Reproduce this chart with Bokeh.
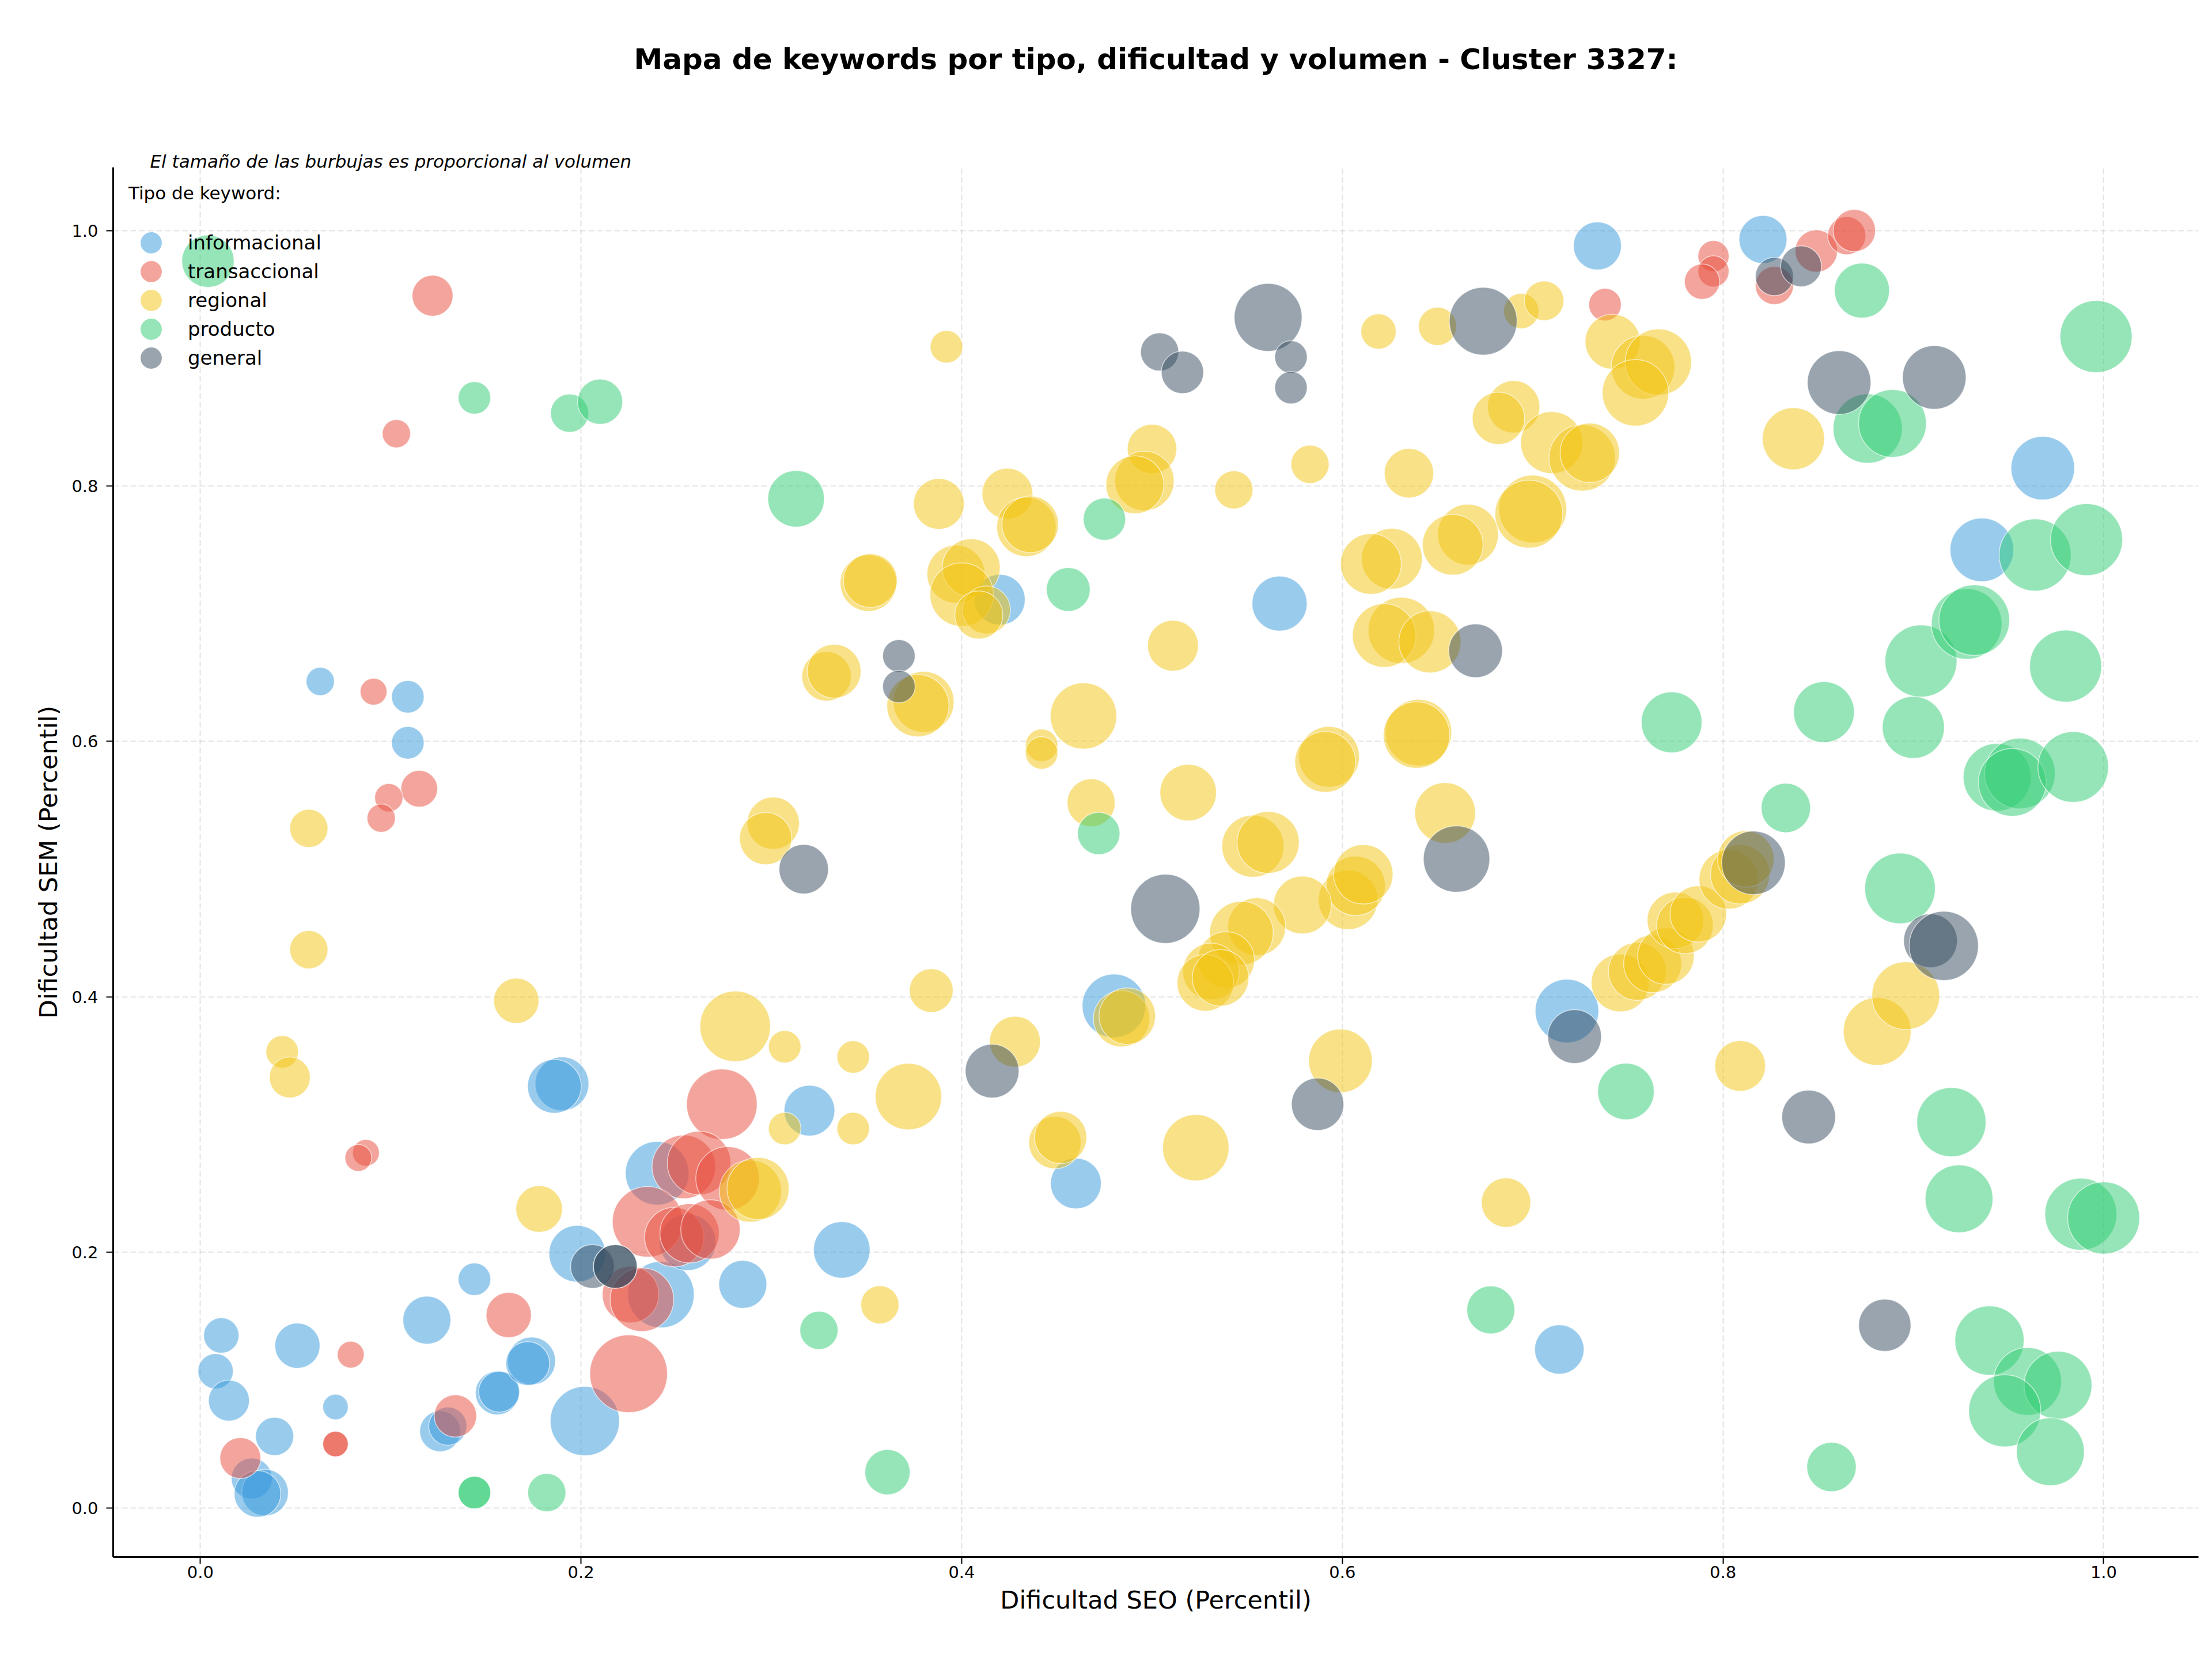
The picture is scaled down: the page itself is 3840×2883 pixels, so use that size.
import math
from bokeh.plotting import figure
from bokeh.models import ColumnDataSource, FixedTicker, PrintfTickFormatter, Range1d, Title, Legend, LegendItem
from bokeh.embed import file_html
from bokeh.resources import INLINE

TITLE = "Mapa de keywords por tipo, dificultad y volumen - Cluster 3327:"
SUBTITLE = "El tamaño de las burbujas es proporcional al volumen"
X_LABEL = "Dificultad SEO (Percentil)"
Y_LABEL = "Dificultad SEM (Percentil)"
LEGEND_TITLE = "Tipo de keyword:"
TICKS = [0.0, 0.2, 0.4, 0.6, 0.8, 1.0]

categories = ["informacional", "transaccional", "regional", "producto", "general"]
colors = ["#3498db", "#e74c3c", "#f1c40f", "#2ecc71", "#34495e"]

# informacional
inf_seo = [0.011, 0.008, 0.015, 0.039, 0.051, 0.027, 0.034, 0.030, 0.071, 0.063,
           0.109, 0.109, 0.119, 0.126, 0.130, 0.144, 0.156, 0.157, 0.174, 0.172,
           0.190, 0.186, 0.198, 0.202, 0.240, 0.242, 0.256, 0.285, 0.320, 0.337,
           0.460, 0.480, 0.420, 0.567, 0.734, 0.718, 0.714, 0.821, 0.936, 0.968]
inf_sem = [0.135, 0.107, 0.084, 0.056, 0.127, 0.023, 0.012, 0.011, 0.079, 0.647,
           0.635, 0.599, 0.147, 0.060, 0.064, 0.179, 0.090, 0.091, 0.115, 0.113,
           0.332, 0.330, 0.199, 0.068, 0.262, 0.167, 0.208, 0.175, 0.311, 0.202,
           0.254, 0.393, 0.711, 0.708, 0.988, 0.389, 0.124, 0.993, 0.750, 0.814]
inf_vol = [2500, 2500, 3360, 2920, 4100, 3360, 4360, 4360, 1300, 1600,
           2120, 2120, 4620, 3360, 2920, 2120, 3840, 3360, 4620, 3840,
           5780, 5780, 6400, 9600, 8100, 8840, 6400, 4620, 5180, 6400,
           5180, 8100, 5180, 6080, 4620, 8100, 4900, 4620, 8100, 8100]

# transaccional
tra_seo = [0.122, 0.103, 0.091, 0.115, 0.099, 0.095, 0.087, 0.083, 0.021, 0.079,
           0.071, 0.071, 0.162, 0.134, 0.225, 0.274, 0.254, 0.262, 0.277, 0.235,
           0.249, 0.257, 0.268, 0.226, 0.232, 0.738, 0.795, 0.795, 0.789, 0.827,
           0.849, 0.865, 0.869]
tra_sem = [0.949, 0.841, 0.639, 0.563, 0.556, 0.540, 0.278, 0.274, 0.039, 0.120,
           0.050, 0.050, 0.151, 0.072, 0.105, 0.316, 0.267, 0.270, 0.258, 0.224,
           0.212, 0.215, 0.218, 0.167, 0.163, 0.942, 0.980, 0.968, 0.960, 0.957,
           0.984, 0.996, 1.000]
tra_vol = [3360, 1600, 1440, 2700, 1600, 1600, 1440, 1440, 3360, 1440,
           1300, 1300, 4100, 3600, 12100, 10000, 8100, 8100, 8100, 10000,
           7060, 7060, 7060, 6400, 8100, 2120, 1940, 1940, 2500, 2920,
           3600, 2920, 3600]

# regional
reg_seo = [0.057, 0.057, 0.043, 0.047, 0.166, 0.178, 0.281, 0.307, 0.307, 0.343,
           0.343, 0.357, 0.301, 0.297, 0.372, 0.384, 0.289, 0.293, 0.428, 0.449,
           0.452, 0.468, 0.442, 0.442, 0.464, 0.484, 0.487, 0.523, 0.599, 0.519,
           0.511, 0.500, 0.496, 0.491, 0.543, 0.583, 0.635, 0.619, 0.650, 0.694,
           0.706, 0.392, 0.388, 0.424, 0.434, 0.436, 0.351, 0.352, 0.329, 0.333,
           0.380, 0.377, 0.397, 0.405, 0.400, 0.413, 0.409, 0.742, 0.758, 0.766,
           0.754, 0.690, 0.682, 0.710, 0.726, 0.730, 0.700, 0.698, 0.666, 0.658,
           0.626, 0.615, 0.631, 0.622, 0.646, 0.640, 0.639, 0.593, 0.591, 0.654,
           0.553, 0.561, 0.603, 0.607, 0.611, 0.579, 0.555, 0.547, 0.539, 0.531,
           0.528, 0.536, 0.686, 0.746, 0.755, 0.763, 0.770, 0.775, 0.780, 0.787,
           0.803, 0.809, 0.812, 0.809, 0.881, 0.896, 0.837]
reg_sem = [0.532, 0.437, 0.357, 0.337, 0.397, 0.234, 0.377, 0.361, 0.297, 0.297,
           0.353, 0.159, 0.536, 0.524, 0.322, 0.405, 0.248, 0.250, 0.365, 0.286,
           0.290, 0.552, 0.597, 0.591, 0.620, 0.383, 0.385, 0.282, 0.350, 0.560,
           0.675, 0.829, 0.804, 0.801, 0.797, 0.817, 0.810, 0.921, 0.925, 0.937,
           0.945, 0.909, 0.786, 0.794, 0.768, 0.770, 0.724, 0.726, 0.651, 0.655,
           0.631, 0.628, 0.731, 0.736, 0.715, 0.703, 0.699, 0.913, 0.893, 0.897,
           0.873, 0.862, 0.853, 0.834, 0.822, 0.826, 0.782, 0.778, 0.762, 0.754,
           0.743, 0.739, 0.687, 0.683, 0.678, 0.607, 0.605, 0.588, 0.584, 0.544,
           0.518, 0.521, 0.476, 0.487, 0.496, 0.472, 0.455, 0.450, 0.429, 0.420,
           0.411, 0.415, 0.239, 0.411, 0.420, 0.426, 0.432, 0.460, 0.456, 0.465,
           0.492, 0.496, 0.508, 0.346, 0.373, 0.401, 0.837]
reg_vol = [2920, 2920, 2120, 3360, 4100, 4360, 10000, 2120, 2120, 2120,
           2120, 2920, 5480, 5480, 8840, 3840, 7740, 7740, 5180, 5480,
           5480, 4620, 2120, 2120, 8840, 6400, 6400, 8840, 8100, 6400,
           5180, 4900, 7060, 6720, 2920, 2920, 4900, 2500, 2920, 2500,
           3140, 2120, 5180, 5180, 7060, 6400, 6400, 5780, 4900, 5780,
           7400, 7740, 6720, 6720, 8100, 4620, 4620, 6080, 8100, 8840,
           8840, 5480, 5480, 7740, 8840, 7060, 9220, 9220, 7400, 7400,
           7400, 7400, 8840, 8100, 7740, 8840, 8840, 7400, 7400, 7400,
           7740, 7740, 7060, 7060, 7060, 6720, 6720, 8100, 6400, 6400,
           6400, 6400, 4900, 6720, 6720, 6720, 6400, 6400, 6400, 6400,
           7060, 7060, 6400, 5180, 9220, 9220, 7740]

# producto
pro_seo = [0.004, 0.144, 0.194, 0.210, 0.313, 0.475, 0.456, 0.472, 0.325, 0.361,
           0.144, 0.144, 0.182, 0.678, 0.749, 0.773, 0.833, 0.853, 0.900, 0.904,
           0.980, 0.928, 0.932, 0.964, 0.991, 0.876, 0.889, 0.873, 0.996, 0.944,
           0.956, 0.952, 0.984, 0.893, 0.920, 0.924, 0.988, 1.000, 0.940, 0.960,
           0.976, 0.948, 0.972, 0.857]
pro_sem = [0.976, 0.869, 0.857, 0.866, 0.790, 0.774, 0.719, 0.528, 0.139, 0.028,
           0.012, 0.012, 0.012, 0.155, 0.326, 0.615, 0.548, 0.623, 0.611, 0.663,
           0.659, 0.692, 0.695, 0.746, 0.758, 0.845, 0.849, 0.953, 0.917, 0.572,
           0.575, 0.568, 0.580, 0.485, 0.302, 0.242, 0.230, 0.227, 0.131, 0.099,
           0.096, 0.076, 0.044, 0.032]
pro_vol = [5480, 2120, 2920, 4100, 6400, 3600, 3840, 3600, 2920, 4100,
           2120, 2120, 2920, 4620, 6400, 7400, 4900, 7400, 7740, 10400,
           10400, 10000, 10000, 10400, 10400, 9600, 9220, 6080, 10400, 9220,
           10000, 9220, 10000, 10000, 9600, 9220, 10400, 10400, 9600, 9220,
           9220, 10400, 9220, 4900]

# general
gen_seo = [0.317, 0.367, 0.367, 0.416, 0.507, 0.504, 0.516, 0.561, 0.573, 0.573,
           0.674, 0.670, 0.660, 0.587, 0.722, 0.816, 0.845, 0.885, 0.909, 0.916,
           0.861, 0.911, 0.827, 0.841, 0.206, 0.218, 0.218]
gen_sem = [0.500, 0.667, 0.643, 0.342, 0.469, 0.905, 0.889, 0.932, 0.901, 0.877,
           0.929, 0.671, 0.508, 0.316, 0.369, 0.505, 0.306, 0.143, 0.444, 0.440,
           0.881, 0.885, 0.964, 0.972, 0.189, 0.189, 0.189]
gen_vol = [4900, 2120, 2120, 5780, 9600, 2920, 3600, 9220, 2120, 2120,
           9220, 5780, 8840, 5480, 5780, 8100, 5780, 5480, 5780, 9600,
           8100, 8100, 2920, 3360, 3840, 3840, 3840]

series = [(inf_seo, inf_sem, inf_vol), (tra_seo, tra_sem, tra_vol), (reg_seo, reg_sem, reg_vol),
          (pro_seo, pro_sem, pro_vol), (gen_seo, gen_sem, gen_vol)]

# ---- layout constants ----
W, H = 3840, 2883
B_LEFT, B_RIGHT, B_TOP, B_BOTTOM = 196, 24, 290, 181
SIZE_K = 1.2245
FONT = "DejaVu Sans"

all_x = [v for s in series for v in s[0]]
all_y = [v for s in series for v in s[1]]
mx = 0.05 * (max(all_x) - min(all_x))
my = 0.05 * (max(all_y) - min(all_y))
x0, x1 = min(all_x) - mx, max(all_x) + mx
y0, y1 = min(all_y) - my, max(all_y) + my

p = figure(width=W, height=H, output_backend="svg", toolbar_location=None,
           x_range=Range1d(x0, x1), y_range=Range1d(y0, y1),
           min_border_left=B_LEFT, min_border_right=B_RIGHT,
           min_border_top=B_TOP, min_border_bottom=B_BOTTOM)
p.outline_line_color = None
p.background_fill_color = "white"
p.border_fill_color = "white"

# main title (outermost)
p.title.text = TITLE
p.title.text_font = FONT
p.title.text_font_size = "50px"
p.title.text_font_style = "bold"
p.title.text_color = "black"
p.title.align = "center"
p.title.standoff = 0

# subtitle (closest to the frame, slightly overlapping its top), then a gap panel
p.add_layout(Title(text=SUBTITLE, text_font=FONT, text_font_size="31px", text_font_style="italic",
                   text_color="black", align="left", offset=64, standoff=-14), "above")
p.add_layout(Title(text=" ", text_font=FONT, text_font_size="10px", standoff=122), "above")

for cat, col, (xs, ys, vs) in zip(categories, colors, series):
    src = ColumnDataSource(dict(x=xs, y=ys, vol=vs, size=[math.sqrt(v) * SIZE_K for v in vs]))
    p.scatter("x", "y", size="size", source=src, fill_color=col, fill_alpha=0.5,
              line_color="white", line_alpha=0.6, line_width=1.5)

# legend swatches: renderers with a single undefined point, drawn as wide discs
nan = float("nan")
items = []
for cat, col in zip(categories, colors):
    r = p.scatter(x=[nan], y=[nan], size=18, fill_alpha=0, line_color=col,
                  line_alpha=0.5, line_width=18.5)
    items.append(LegendItem(label=cat, renderers=[r]))

lg = Legend(items=items, location="top_left")
lg.margin = 27
lg.padding = 0
lg.glyph_width = 78
lg.glyph_height = 46
lg.spacing = 4
lg.label_standoff = 25
lg.label_text_font = FONT
lg.label_text_font_size = "34px"
lg.label_text_color = "black"
lg.title = LEGEND_TITLE
lg.title_text_font = FONT
lg.title_text_font_size = "31px"
lg.title_text_font_style = "normal"
lg.title_text_color = "black"
lg.title_standoff = 45
lg.border_line_color = None
lg.background_fill_alpha = 0
p.add_layout(lg)

# axes
for ax in (p.xaxis, p.yaxis):
    ax.ticker = FixedTicker(ticks=TICKS)
    ax.formatter = PrintfTickFormatter(format="%.1f")
    ax.minor_tick_line_color = None
    ax.major_tick_in = 0
    ax.major_tick_out = 12
    ax.major_tick_line_width = 2
    ax.major_tick_line_color = "black"
    ax.axis_line_width = 3
    ax.axis_line_color = "black"
    ax.major_label_text_font = FONT
    ax.major_label_text_font_size = "29px"
    ax.major_label_text_color = "black"
    ax.axis_label_text_font = FONT
    ax.axis_label_text_font_size = "43px"
    ax.axis_label_text_font_style = "normal"
    ax.axis_label_text_color = "black"
p.xaxis.axis_label = X_LABEL
p.yaxis.axis_label = Y_LABEL
p.xaxis.major_label_standoff = 3
p.xaxis.axis_label_standoff = 10
p.yaxis.major_label_standoff = 14
p.yaxis.axis_label_standoff = 12

for g in (p.xgrid, p.ygrid):
    g.ticker = FixedTicker(ticks=TICKS)
    g.grid_line_color = "#b0b0b0"
    g.grid_line_alpha = 0.35
    g.grid_line_width = 2
    g.grid_line_dash = "10 5"

open("out.html", "w").write(file_html(p, INLINE))
